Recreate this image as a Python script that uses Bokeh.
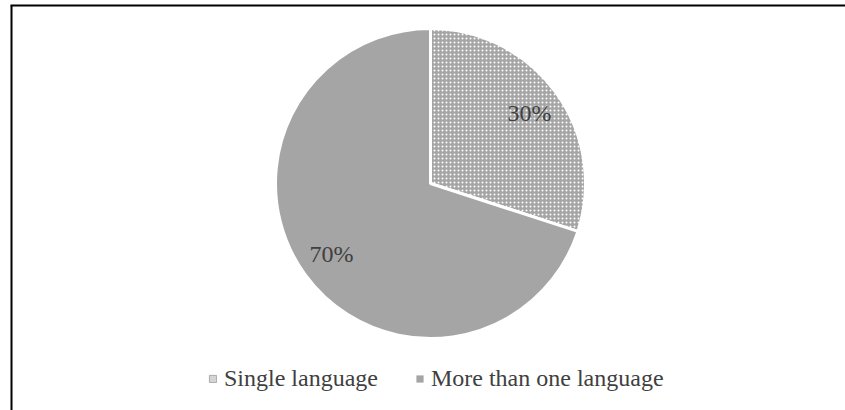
import math
from bokeh.plotting import figure
from bokeh.models import Range1d, Legend, LegendItem
from bokeh.core.properties import value
from bokeh.embed import file_html
from bokeh.resources import INLINE

categories = ["Single language", "More than one language"]
shares = [30, 70]
labels = ["30%", "70%"]

W, H = 845, 410
cx, cy, R = 430, 227, 155
GRAY = "#A5A5A5"

total = sum(shares)
starts, ends, lx, ly = [], [], [], []
a = math.pi / 2
for s in shares:
    span = 2 * math.pi * s / total
    starts.append(a)
    ends.append(a - span)
    mid = a - span / 2
    lx.append(cx + 0.79 * R * math.cos(mid))
    ly.append(cy + 0.775 * R * math.sin(mid))
    a -= span

p = figure(width=W, height=H, output_backend="svg", toolbar_location=None,
           x_range=Range1d(0, W), y_range=Range1d(0, H), min_border=0)
p.axis.visible = False
p.grid.visible = False
p.outline_line_color = None
p.background_fill_color = "white"

p.wedge(x=cx, y=cy, radius=R, start_angle=starts[0], end_angle=ends[0],
        direction="clock", fill_color=GRAY, line_color="white", line_width=3,
        hatch_pattern="dot", hatch_color="white", hatch_scale=4, hatch_weight=2)
p.wedge(x=cx, y=cy, radius=R, start_angle=starts[1], end_angle=ends[1],
        direction="clock", fill_color=GRAY, line_color="white", line_width=3)

p.text(x=lx, y=ly, text=labels, text_align="center", text_baseline="middle",
       text_font=value("Liberation Serif"), text_font_size="24px", text_color="#404040")

# frame lines
p.multi_line(xs=[[11, 11], [10, W]], ys=[[H - 5, -5], [H - 5, H - 5]], line_color="black", line_width=2)

# legend proxies (zero-sized, invisible in the plot)
g1 = p.rect(x=[cx], y=[cy], width=0, height=0, fill_color="#D4D4D4", line_color="#ABABAB",
            line_width=1)
g2 = p.rect(x=[cx], y=[cy], width=0, height=0, fill_color=GRAY, line_color=None)

legend = Legend(items=[LegendItem(label=categories[0], renderers=[g1]),
                       LegendItem(label=categories[1], renderers=[g2])],
                orientation="horizontal", location=(208, 18),
                glyph_width=9, glyph_height=9, label_standoff=7, spacing=37,
                label_text_font="Liberation Serif", label_text_font_size="24px",
                label_text_color="#404040", border_line_color=None,
                background_fill_alpha=0, padding=0, margin=0)
p.add_layout(legend)

open("out.html", "w").write(file_html(p, INLINE))
